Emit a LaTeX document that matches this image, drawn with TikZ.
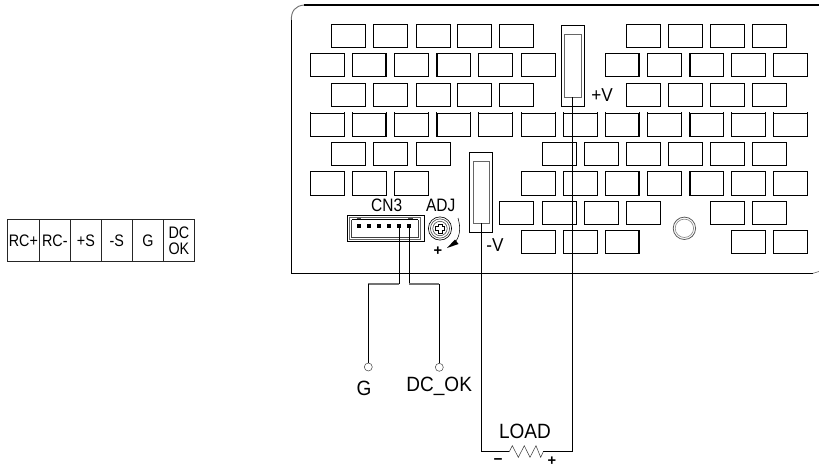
\documentclass[tikz,border=0pt]{standalone}
\usepackage{fontspec}
\setmainfont{Liberation Sans}
\newfontfamily\narrowa[FakeStretch=0.86]{Liberation Sans}
\newfontfamily\narrowb[FakeStretch=0.92]{Liberation Sans}
\tikzset{
  slot/.style={draw=black,line width=0.7pt,fill=none},
  heavy/.style={draw=black,line width=1.3pt},
  lbl/.style={inner sep=0pt,font=\narrowa\fontsize{13.5}{14}\selectfont},
  big/.style={inner sep=0pt,font=\narrowb\fontsize{15.5}{16}\selectfont},
  mid/.style={inner sep=0pt,font=\narrowb\fontsize{14}{15}\selectfont},
  sign/.style={inner sep=0pt,font=\bfseries\fontsize{11}{11}\selectfont},
  cell/.style={draw=black!85,line width=0.55pt,minimum height=31.3pt,inner sep=0pt,anchor=north west,align=center,font=\narrowa\fontsize{12.5}{12.5}\selectfont},
  wire/.style={draw=black,line width=0.7pt},
  gwire/.style={draw=black!55,line width=1pt},
  term/.style={circle,draw=black!70,line width=0.4pt,minimum size=6pt,inner sep=0pt,fill=white},
  pin/.style={fill=black,minimum size=2.8pt,inner sep=0pt}
}
\newcommand{\slotrow}[3]{\foreach \xx in {#3}{\draw[slot] (\xx,#1) rectangle (\xx+34,#2);}}
\newcommand{\slotrowt}[3]{\foreach \xx in {#3}{\draw[slot] (\xx,#1) rectangle (\xx+34,#2);
  \draw[slot] (\xx,#1) -- ++(0,-1.2) (\xx+34,#1) -- ++(0,-1.2);}}
\begin{document}
\begin{tikzpicture}[x=0.75pt,y=-0.75pt]
\useasboundingbox (0,0) rectangle (819,468);
% panel
\draw[black!55,line width=0.7pt] (291.3,20) .. controls (291.3,11) and (295,6) .. (304,5);
\draw[black,line width=1.6pt] (304,5) -- (819,5);
\draw[black,line width=0.75pt] (291.3,20) -- (291.3,273.3) -- (813,273.3);
\draw[black!55,line width=0.5pt] (813,273.3) -- (819,271.5);
% slots
\slotrow{24.3}{47.3}{331.3,373.3,416.3,457.3,499.3,626.3,668.3,710.3,752.3}
\slotrowt{53.7}{76.7}{310.3,352.3,394.3,436.7,478.3,521.3,605.3,647.3,689.7,731.3,773.3}
\slotrow{83.3}{106.3}{331.3,373.3,416.3,457.3,499.3,626.3,668.3,710.3,752.3}
\slotrowt{113}{136.3}{310.3,352.3,394.3,436.7,478.3,521.3,563.3,605.3,647.3,689.7,731.3,773.3}
\slotrow{142.7}{165.3}{331.3,373.3,416.3,542.3,584.3,626.3,668.3,710.3,752.3}
\slotrow{171.3}{195.3}{310.3,352.3,394.3,521.3,563.3,605.3,647.3,689.7,731.3,773.3}
\slotrow{201.3}{224.3}{499.3,542.3,584.3,626.3,710.3,752.3}
\slotrow{230.3}{253.3}{521.3,563.3,605.3,731.3,773.3}
\draw[heavy] (386.3,53.7) -- (386.3,76.7) (436.9,53.7) -- (436.9,76.7) (639.3,53.7) -- (639.3,76.7) (689.9,53.7) -- (689.9,76.7);
\draw[heavy] (386.3,113) -- (386.3,136.3) (436.9,113) -- (436.9,136.3) (639.3,113) -- (639.3,136.3) (689.9,113) -- (689.9,136.3);
\draw[heavy] (639.3,171.3) -- (639.3,195.3) (689.9,171.3) -- (689.9,195.3) (639.3,230.3) -- (639.3,253.3);
% +V and -V terminals
\draw[slot,fill=white] (561.3,25.3) rectangle (584.3,106.3);
\draw[black!60,line width=0.75pt] (564.3,34.3) rectangle (581.7,97.3);
\draw[slot,fill=white] (469.3,152.3) rectangle (492.3,232.3);
\draw[black!60,line width=0.75pt] (473,161.3) rectangle (489.7,223.3);
\coordinate (vp) at (572.3,97.3);
\coordinate (vn) at (481.7,223.3);
\coordinate (rr) at (543.3,451.7);
\coordinate (rl) at (509.3,451.7);
\draw[wire] (vp) -- (vp |- rr) -- (rr);
\draw[wire] (vn) -- (vn |- rl) -- (rl);
\draw[black!75,line width=0.4pt] (rl) -- (512.3,445.7) -- (518.3,457.3) -- (524.3,445.7) -- (530,457.3) -- (536,445.7) -- (540.7,457.3) -- (rr);
% mounting hole
\draw[black!65,line width=0.6pt] (684.4,228.3) circle (8.4pt);
\draw[black!45,line width=0.5pt] (684.4,228.3) circle (6.9pt);
% CN3
\draw[black!60,line width=0.6pt] (349,217.5) rectangle (420.5,239.3);
\draw[black!75,line width=0.4pt] (351,219.5) -- (351,237.5) -- (418.5,237.5) -- (418.5,219.5);
\draw[black,line width=0.5pt] (352,219.5) -- (418,219.5);
\draw[black!70,line width=0.6pt] (356.5,218.5) -- (361,218.5) (408,218.5) -- (413,218.5);
\draw[black,line width=1pt] (347.3,215.3) rectangle (424.3,241.5);
\node[pin] (p1) at (359,226) {};
\node[pin] (p2) at (369,226) {};
\node[pin] (p3) at (379,226) {};
\node[pin] (p4) at (389,226) {};
\node[pin] (p5) at (399,226) {};
\node[pin] (p6) at (409.3,226) {};
% ADJ screw
\draw[black,line width=0.5pt] (440,228.5) circle (8.7pt);
\draw[black!70,line width=0.45pt] (440,228.5) circle (7.2pt);
\draw[black!70,line width=0.45pt] (440,228.5) circle (5.4pt);
\draw[black,line width=0.45pt] (438.2,223.8) -- (441.8,223.8) -- (441.8,226.7) -- (444.7,226.7) -- (444.7,230.3) -- (441.8,230.3) -- (441.8,233.2) -- (438.2,233.2) -- (438.2,230.3) -- (435.3,230.3) -- (435.3,226.7) -- (438.2,226.7) -- cycle;
\draw[black,line width=0.4pt] (458,218) .. controls (461,228) and (460,238) .. (454,243);
\fill[black] (447,248) -- (455,239.5) -- (458.5,244) -- cycle;
\node[sign] (plusadj) at (437.8,251) {+};
% signal wires
\node[term] (tg) at (368.3,367) {};
\node[term] (td) at (439.3,367.3) {};
\coordinate (g1) at (399,284);
\coordinate (g2) at (368.3,284);
\coordinate (d1) at (409.3,284);
\coordinate (d2) at (439.3,284);
\draw[wire] (p5) -- (g1);
\draw[wire] (p6) -- (d1);
\draw[gwire] (g1) -- (g2);
\draw[gwire] (d1) -- (d2);
\draw[wire] (g2) -- (tg);
\draw[wire] (d2) -- (td);
% labels
\node[lbl] (lcn) at (386.7,205.5) {CN3};
\node[lbl] (ladj) at (440.7,205.5) {ADJ};
\node[mid] (lvn) at (495,245) {-V};
\node[mid] (lvp) at (602,95) {+V};
\node[big] (lg) at (364,388.5) {G};
\node[big] (ldc) at (439.2,386) {DC\_OK};
\node[big] (lload) at (525,431.7) {LOAD};
\node[sign,font=\bfseries\fontsize{11.5}{12}\selectfont] (lm) at (498,461.5) {\textminus};
\node[sign] (lp) at (552,461.5) {+};
% table
\node[cell,minimum width=23.55pt] (c1) at (7.3,219.3) {RC+};
\node[cell,minimum width=23.7pt] (c2) at (38.7,219.3) {RC-};
\node[cell,minimum width=22.8pt] (c3) at (70.3,219.3) {+S};
\node[cell,minimum width=23.7pt] (c4) at (100.7,219.3) {-S};
\node[cell,minimum width=23pt] (c5) at (132.3,219.3) {G};
\node[cell,minimum width=23.25pt] (c6) at (163,219.3) {DC\\[-0.5pt]OK};
\end{tikzpicture}
\end{document}
